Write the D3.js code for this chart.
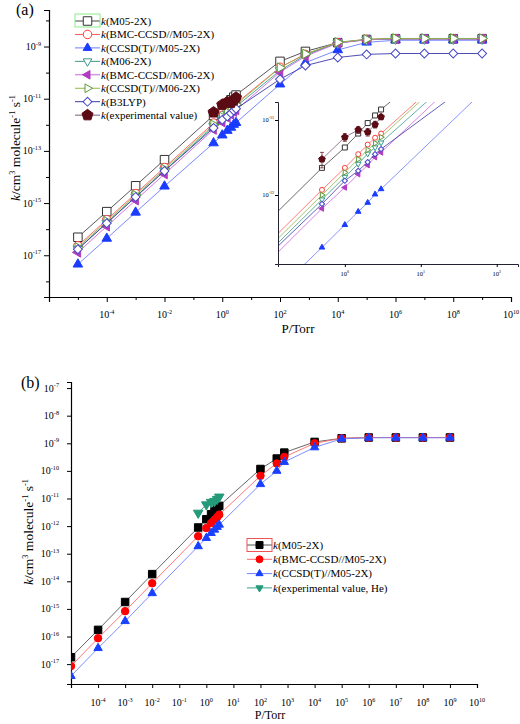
<!DOCTYPE html>
<html><head><meta charset="utf-8">
<script src="https://cdn.jsdelivr.net/npm/d3@7"></script>
<style>body{margin:0;background:#fff}svg{display:block}text{font-family:"Liberation Serif","Times New Roman",serif;fill:#000}</style>
</head><body><svg id="c" width="520" height="724"></svg>
<script>
// ---------- DATA : panel (a) ----------
const pressuresA = [1e-5,1e-4,1e-3,1e-2,0.5,1,1.5,2,2.5,3,1e2,760,1e4,1e5,1e6,1e7,1e8,1e9];
const kA_M052X      = [4.9e-17,4.7e-16,4.6e-15,4.6e-14,2.3e-12,4.3e-12,6.6e-12,9.1e-12,1.15e-11,1.38e-11,2.7e-10,6.5e-10,1.41e-9,1.86e-9,2.0e-9,2.0e-9,2.0e-9,2.0e-9];
const kA_BMC_M052X  = [2.3e-17,2.3e-16,2.3e-15,2.3e-14,1.17e-12,2.3e-12,3.5e-12,4.7e-12,5.8e-12,6.6e-12,1.6e-10,5.0e-10,1.41e-9,1.86e-9,1.97e-9,1.97e-9,1.97e-9,1.97e-9];
const kA_CCSDT_M052X= [4.5e-18,4.4e-17,4.4e-16,4.4e-15,2.0e-13,4.0e-13,6.0e-13,7.9e-13,1.02e-12,1.2e-12,3.6e-11,2.4e-10,7.4e-10,1.45e-9,1.74e-9,1.74e-9,1.74e-9,1.74e-9];
const kA_M062X      = [1.74e-17,1.74e-16,1.74e-15,1.74e-14,8.7e-13,1.74e-12,2.6e-12,3.55e-12,4.3e-12,5.0e-12,1.2e-10,4.7e-10,1.38e-9,1.82e-9,1.95e-9,1.95e-9,1.95e-9,1.95e-9];
const kA_BMC_M062X  = [1.29e-17,1.29e-16,1.29e-15,1.29e-14,6.6e-13,1.26e-12,1.9e-12,2.5e-12,3.2e-12,3.7e-12,1.05e-10,4.2e-10,1.35e-9,1.82e-9,1.95e-9,1.95e-9,1.95e-9,1.95e-9];
const kA_CCSDT_M062X= [2.0e-17,2.0e-16,2.0e-15,2.0e-14,1.0e-12,2.0e-12,3.0e-12,4.0e-12,4.9e-12,5.9e-12,1.55e-10,5.2e-10,1.45e-9,1.9e-9,2.04e-9,2.04e-9,2.04e-9,2.04e-9];
const kA_B3LYP      = [1.7e-17,1.7e-16,1.7e-15,1.7e-14,7.6e-13,1.55e-12,2.1e-12,2.75e-12,3.5e-12,4.1e-12,5.6e-11,1.86e-10,3.8e-10,5.0e-10,5.4e-10,5.4e-10,5.4e-10,5.4e-10];
const pressuresExp  = [0.5,1,1.5,2,2.5,3];
const kA_Exp        = [3.0e-12,5.9e-12,7.4e-12,6.9e-12,8.7e-12,1.1e-11];
const kA_ExpErr     = [0.7e-12,0.7e-12,0.8e-12,0.8e-12,0.9e-12,0.9e-12];

// ---------- DATA : panel (b) ----------
const pressuresB = [1e-5,1e-4,1e-3,1e-2,0.5,1,1.5,2,2.5,3,1e2,400,760,1e4,1e5,1e6,1e7,1e8,1e9];
const kB_M052X      = [1.78e-17,1.74e-16,1.78e-15,1.82e-14,8.9e-13,1.78e-12,2.7e-12,3.55e-12,4.5e-12,5.4e-12,1.17e-10,2.8e-10,4.6e-10,1.12e-9,1.51e-9,1.62e-9,1.62e-9,1.62e-9,1.62e-9];
const kB_BMC_M052X  = [8.5e-18,8.7e-17,8.3e-16,8.5e-15,4.3e-13,8.5e-13,1.29e-12,1.7e-12,2.1e-12,2.6e-12,6.6e-11,1.86e-10,3.2e-10,1.0e-9,1.51e-9,1.62e-9,1.62e-9,1.62e-9,1.62e-9];
const kB_CCSDT_M052X= [3.7e-18,3.8e-17,3.6e-16,3.7e-15,1.86e-13,3.7e-13,5.6e-13,7.4e-13,9.3e-13,1.12e-12,3.3e-11,1.0e-10,2.1e-10,7.1e-10,1.45e-9,1.58e-9,1.58e-9,1.58e-9,1.58e-9];
const kB_ExpHe      = [3.0e-12,6.0e-12,7.4e-12,8.0e-12,9.5e-12,1.15e-11];

// ---------- tick labels ----------
const xTickExpA = [-4,-2,0,2,4,6,8,10];
const yTickExpA = [-9,-11,-13,-15,-17];
const xTickExpB = [-4,-3,-2,-1,0,1,2,3,4,5,6,7,8,9,10];
const yTickExpB = [-7,-8,-9,-10,-11,-12,-13,-14,-15,-16,-17];
const xTickExpIn = [0,1,2];
const yTickExpIn = [-11,-12];

// ---------- helpers ----------
const svg = d3.select("#c");
const zip = (ps, ks) => ps.map((p,i)=>({p, k:ks[i]}));

function pentagon(r){
  const pts = d3.range(5).map(i=>{const a=-Math.PI/2+i*2*Math.PI/5;return [r*Math.cos(a),r*Math.sin(a)];});
  return "M"+pts.map(p=>p.join(",")).join("L")+"Z";
}
function sym(type, s){
  switch(type){
    case "square":  return {d:d3.symbol(d3.symbolSquare, s*s)(), r:0};
    case "circle":  return {d:d3.symbol(d3.symbolCircle, Math.PI*s*s/4)(), r:0};
    case "triUp":   return {d:d3.symbol(d3.symbolTriangle, s*s*0.45)(), r:0};
    case "triDown": return {d:d3.symbol(d3.symbolTriangle, s*s*0.45)(), r:180};
    case "triLeft": return {d:d3.symbol(d3.symbolTriangle, s*s*0.45)(), r:-90};
    case "triRight":return {d:d3.symbol(d3.symbolTriangle, s*s*0.45)(), r:90};
    case "diamond": return {d:d3.symbol(d3.symbolSquare, s*s*0.55)(), r:45};
    case "pentagon":return {d:pentagon(s*0.58), r:0};
  }
}
function powLabel(g, x, y, exp, fs, anchor){
  const t = g.append("text").attr("x",x).attr("y",y).attr("font-size",fs).attr("text-anchor",anchor);
  t.append("tspan").text("10");
  t.append("tspan").attr("dy",-fs*0.45).attr("font-size",fs*0.62).text(exp);
  return t;
}
function drawSeries(g, xs, ys, pts, st, size, lw){
  g.append("path").datum(pts).attr("fill","none").attr("stroke",st.line).attr("stroke-width",lw)
    .attr("d", d3.line().x(d=>xs(d.p)).y(d=>ys(d.k)));
  const m = sym(st.sym, st.sym.startsWith("tri") ? size*1.1 : size);
  g.selectAll(null).data(pts).join("path").attr("d",m.d)
    .attr("transform",d=>`translate(${xs(d.p)},${ys(d.k)}) rotate(${m.r})`)
    .attr("fill",st.fill).attr("stroke",st.stroke).attr("stroke-width",st.sw||1);
}
function legendRow(g, x0, x1, y, st, size, label, fs){
  g.append("line").attr("x1",x0).attr("x2",x1).attr("y1",y).attr("y2",y).attr("stroke",st.line).attr("stroke-width",1);
  const m = sym(st.sym, size);
  g.append("path").attr("d",m.d).attr("transform",`translate(${(x0+x1)/2},${y}) rotate(${m.r})`)
    .attr("fill",st.fill).attr("stroke",st.stroke).attr("stroke-width",st.sw||1);
  const t = g.append("text").attr("x",x1+1).attr("y",y+fs*0.35).attr("font-size",fs);
  t.append("tspan").attr("font-style","italic").text("k");
  t.append("tspan").text(label);
}
function yLabel(g, x, y, fs){
  const t = g.append("text").attr("transform",`translate(${x},${y}) rotate(-90)`).attr("text-anchor","middle").attr("font-size",fs);
  t.append("tspan").attr("font-style","italic").text("k");
  t.append("tspan").text("/cm");
  t.append("tspan").attr("dy",-fs*0.4).attr("font-size",fs*0.62).text("3");
  t.append("tspan").attr("dy",fs*0.4).text(" molecule");
  t.append("tspan").attr("dy",-fs*0.4).attr("font-size",fs*0.62).text("-1");
  t.append("tspan").attr("dy",fs*0.4).text(" s");
  t.append("tspan").attr("dy",-fs*0.4).attr("font-size",fs*0.62).text("-1");
}

// ================= PANEL (a) =================
const xA = d3.scaleLog().domain([1e-6,1e10]).range([49,511]);
const yA = d3.scaleLog().domain([Math.pow(10,-18.6),Math.pow(10,-7.6)]).range([297,10]);
const gA = svg.append("g");

const stylesA = [
  {key:"M05-2X",          k:kA_M052X,       sym:"square",  fill:"#fff", stroke:"#333",   line:"#444"},
  {key:"BMC-CCSD//M05-2X",k:kA_BMC_M052X,   sym:"circle",  fill:"#fff", stroke:"#ff3b3b",line:"#ff5a5a"},
  {key:"CCSD(T)//M05-2X", k:kA_CCSDT_M052X, sym:"triUp",   fill:"#1a3cff",stroke:"#1a3cff",line:"#6a7aff"},
  {key:"M06-2X",          k:kA_M062X,       sym:"triDown", fill:"#fff", stroke:"#3a9a8a",line:"#3a9a8a"},
  {key:"BMC-CCSD//M06-2X",k:kA_BMC_M062X,   sym:"triLeft", fill:"#b03cc0",stroke:"#b03cc0",line:"#cc66e0"},
  {key:"CCSD(T)//M06-2X", k:kA_CCSDT_M062X, sym:"triRight",fill:"#fff", stroke:"#5f9a3a",line:"#8fb848"},
  {key:"B3LYP",           k:kA_B3LYP,       sym:"diamond", fill:"#fff", stroke:"#4646c8",line:"#3a3aa8"}
];
const expStyleA = {sym:"pentagon", fill:"#5c0a14", stroke:"#5c0a14", line:"#7a5a78"};
const expPtsA = pressuresExp.map((p,i)=>({p, k:kA_Exp[i], e:kA_ExpErr[i]}));

// axes
gA.append("g").attr("transform","translate(0,297)")
  .call(d3.axisBottom(xA).tickValues(d3.range(-6,11,2).map(e=>Math.pow(10,e))).tickSize(5).tickFormat(""))
  .call(g=>g.select(".domain").attr("stroke-width",1.2));
gA.append("g").attr("transform","translate(0,297)")
  .call(d3.axisBottom(xA).tickValues(d3.range(-5,10,2).map(e=>Math.pow(10,e))).tickSize(3).tickFormat(""))
  .call(g=>g.select(".domain").remove());
gA.append("g").attr("transform","translate(49,0)")
  .call(d3.axisLeft(yA).tickValues(d3.range(-17,-7,2).map(e=>Math.pow(10,e))).tickSize(5).tickFormat(""))
  .call(g=>g.select(".domain").attr("stroke-width",1.2));
gA.append("g").attr("transform","translate(49,0)")
  .call(d3.axisLeft(yA).tickValues(d3.range(-18,-7,2).map(e=>Math.pow(10,e))).tickSize(3).tickFormat(""))
  .call(g=>g.select(".domain").remove());
xTickExpA.forEach(e=>powLabel(gA, xA(Math.pow(10,e)), 318, String(e), 10, "middle"));
yTickExpA.forEach(e=>powLabel(gA, 41, yA(Math.pow(10,e))+3.5, String(e), 10, "end"));
gA.append("text").attr("x",298).attr("y",333).attr("text-anchor","middle").attr("font-size",13).text("P/Torr");
yLabel(gA, 20, 148, 13.5);
gA.append("text").attr("x",16).attr("y",15).attr("font-size",16).text("(a)");

// series
stylesA.forEach(st=>drawSeries(gA, xA, yA, zip(pressuresA, st.k), st, 8.5, 0.9));
gA.selectAll(null).data(expPtsA).join("path")
  .attr("d",d=>`M${xA(d.p)},${yA(d.k-d.e)}V${yA(d.k+d.e)}`).attr("stroke","#5c0a14").attr("stroke-width",0.8);
drawSeries(gA, xA, yA, expPtsA, expStyleA, 10, 0.9);

// legend (a)
const legA = gA.append("g");
const legNamesA = stylesA.map(s=>s.key).concat(["experimental value"]);
const legStylesA = stylesA.concat([expStyleA]);
legNamesA.forEach((n,i)=>legendRow(legA, 75, 100, 21+i*13.45, legStylesA[i], i===7?10:8.5, "("+n+")", 11));
legA.append("rect").attr("x",75).attr("y",14).attr("width",25).attr("height",13).attr("fill","none").attr("stroke","#88ee88").attr("stroke-width",1);

// inset
const xI = d3.scaleLog().domain([Math.pow(10,-0.88),Math.pow(10,2.28)]).range([278,518]);
const yI = d3.scaleLog().domain([Math.pow(10,-12.92),Math.pow(10,-10.76)]).range([264,102]);
const gI = svg.append("g");
svg.append("defs").append("clipPath").attr("id","clipI").append("rect").attr("x",278).attr("y",102).attr("width",240).attr("height",162);
const gIc = gI.append("g").attr("clip-path","url(#clipI)");
stylesA.forEach(st=>drawSeries(gIc, xI, yI, zip(pressuresA, st.k), st, 5, 0.8));
gIc.selectAll(null).data(expPtsA).join("path")
  .attr("d",d=>`M${xI(d.p)},${yI(d.k-d.e)}V${yI(d.k+d.e)}M${xI(d.p)-2},${yI(d.k-d.e)}h4M${xI(d.p)-2},${yI(d.k+d.e)}h4`)
  .attr("stroke","#5c0a14").attr("stroke-width",0.7).attr("fill","none");
drawSeries(gIc, xI, yI, expPtsA, expStyleA, 6, 0.8);
gI.append("g").attr("transform","translate(0,264)")
  .call(d3.axisBottom(xI).tickValues(xTickExpIn.map(e=>Math.pow(10,e))).tickSize(3).tickFormat(""))
  .call(g=>g.select(".domain").attr("stroke","#223").attr("stroke-width",1));
gI.append("g").attr("transform","translate(278,0)")
  .call(d3.axisLeft(yI).tickValues(yTickExpIn.map(e=>Math.pow(10,e))).tickSize(3).tickFormat(""))
  .call(g=>g.select(".domain").attr("stroke","#223").attr("stroke-width",1));
xTickExpIn.forEach(e=>powLabel(gI, xI(Math.pow(10,e)), 276, String(e), 6.5, "middle"));
yTickExpIn.forEach(e=>powLabel(gI, 274, yI(Math.pow(10,e))+2, String(e), 6.5, "end"));

// ================= PANEL (b) =================
const xB = d3.scaleLog().domain([1e-5,1e10]).range([71,477]);
const yB = d3.scaleLog().domain([Math.pow(10,-17.72),Math.pow(10,-6.78)]).range([684,382]);
const gB = svg.append("g");
svg.select("defs").append("clipPath").attr("id","clipB").append("rect").attr("x",71).attr("y",382).attr("width",420).attr("height",302);

const stylesB = [
  {key:"M05-2X",           k:kB_M052X,       sym:"square",  fill:"#000",   stroke:"#000",   line:"#555"},
  {key:"BMC-CCSD//M05-2X", k:kB_BMC_M052X,   sym:"circle",  fill:"#ff0000",stroke:"#ff0000",line:"#ff6a6a"},
  {key:"CCSD(T)//M05-2X",  k:kB_CCSDT_M052X, sym:"triUp",   fill:"#1a40ff",stroke:"#1a40ff",line:"#7080ff"}
];
const expStyleB = {sym:"triDown", fill:"#239a78", stroke:"#239a78", line:"#3aa08a"};

gB.append("g").attr("transform","translate(0,684)")
  .call(d3.axisBottom(xB).tickValues(d3.range(-5,11).map(e=>Math.pow(10,e))).tickSize(4).tickFormat(""))
  .call(g=>g.select(".domain").attr("stroke-width",1.2));
gB.append("g").attr("transform","translate(71,0)")
  .call(d3.axisLeft(yB).tickValues(d3.range(-17,-6).map(e=>Math.pow(10,e))).tickSize(4).tickFormat(""))
  .call(g=>g.select(".domain").attr("stroke-width",1.2));
xTickExpB.forEach(e=>powLabel(gB, xB(Math.pow(10,e)), 706, String(e), 10, "middle"));
yTickExpB.forEach(e=>powLabel(gB, 59, yB(Math.pow(10,e))+3.5, String(e), 10, "end"));
gB.append("text").attr("x",270).attr("y",719).attr("text-anchor","middle").attr("font-size",12).text("P/Torr");
yLabel(gB, 33, 532, 13.5);
gB.append("text").attr("x",21).attr("y",388).attr("font-size",16).text("(b)");

const gBc = gB.append("g").attr("clip-path","url(#clipB)");
stylesB.forEach(st=>drawSeries(gBc, xB, yB, zip(pressuresB, st.k), st, 7.5, 0.9));
drawSeries(gBc, xB, yB, zip(pressuresExp, kB_ExpHe), expStyleB, 8.5, 0.9);

const legB = gB.append("g");
const legNamesB = stylesB.map(s=>s.key).concat(["experimental value, He"]);
const legStylesB = stylesB.concat([expStyleB]);
legNamesB.forEach((n,i)=>legendRow(legB, 247, 272, 545+i*14.3, legStylesB[i], 7, "("+n+")", 11));
legB.append("rect").attr("x",247).attr("y",538.5).attr("width",25).attr("height",13).attr("fill","none").attr("stroke","#ee5555").attr("stroke-width",1);
</script></body></html>
